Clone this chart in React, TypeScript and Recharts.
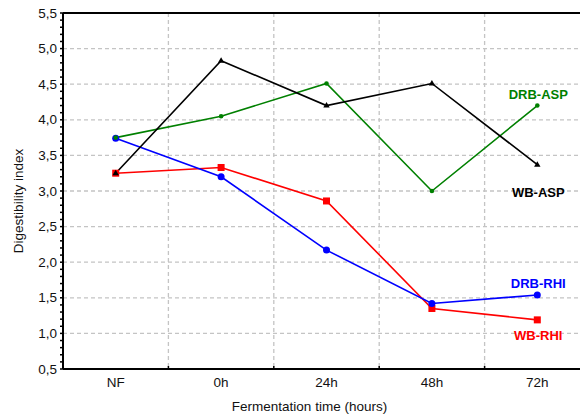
import { LineChart, Line, XAxis, YAxis, CartesianGrid, ReferenceLine } from "recharts";

const categories = ["NF", "0h", "24h", "48h", "72h"];
const wbAsp = [3.25, 4.83, 4.2, 4.51, 3.37];
const drbAsp = [3.75, 4.05, 4.51, 3.0, 4.2];
const drbRhi = [3.74, 3.2, 2.17, 1.42, 1.54];
const wbRhi = [3.25, 3.33, 2.86, 1.35, 1.19];

const yMajorTicks = [0.5, 1, 1.5, 2, 2.5, 3, 3.5, 4, 4.5, 5, 5.5];
const yMinorTicks: number[] = [];
for (let i = 5; i <= 55; i++) yMinorTicks.push(i / 10);
// category centres plus the band boundaries between them
const xTicks = [0, 0.5, 1, 1.5, 2, 2.5, 3, 3.5, 4, 4.5];
const xGridTicks = [0.5, 1.5, 2.5, 3.5, 4.5];

const data = categories.map((cat, i) => ({
  x: i,
  cat,
  wbAsp: wbAsp[i],
  drbAsp: drbAsp[i],
  drbRhi: drbRhi[i],
  wbRhi: wbRhi[i],
}));

const font = "'Liberation Sans', Arial, sans-serif";
const last = categories.length - 1;
const gridStroke = "#c4c4c4";

function YTick(props: any) {
  const { x, y, payload } = props;
  const v = payload.value;
  const major = Math.abs(v * 2 - Math.round(v * 2)) < 1e-6;
  return (
    <g>
      <line x1={x - 3} x2={x} y1={y} y2={y} stroke="#000" strokeWidth={1.5} />
      {major && (
        <text
          x={x - 6}
          y={y}
          textAnchor="end"
          dominantBaseline="central"
          fontFamily={font}
          fontSize={13.5}
          fill="#111"
        >
          {v.toFixed(1).replace(".", ",")}
        </text>
      )}
    </g>
  );
}

function XTick(props: any) {
  const { x, y, payload } = props;
  const v = payload.value;
  if (!Number.isInteger(v)) {
    return <line x1={x} x2={x} y1={y - 3} y2={y} stroke="#000" strokeWidth={1.5} />;
  }
  return (
    <text
      x={x}
      y={y + 13}
      textAnchor="middle"
      dominantBaseline="central"
      fontFamily={font}
      fontSize={13.5}
      fill="#111"
    >
      {categories[v]}
    </text>
  );
}

function endLabel(cx: number, cy: number, name: string, color: string, dy: number) {
  return (
    <text
      x={cx + 1}
      y={cy + dy}
      textAnchor="middle"
      fontFamily={font}
      fontWeight="bold"
      fontSize={13}
      fill={color}
    >
      {name}
    </text>
  );
}

const triangleDot = (props: any) => {
  const { cx, cy, index } = props;
  return (
    <g key={`wa${index}`}>
      <polygon points={`${cx},${cy - 3.5} ${cx - 3.2},${cy + 2} ${cx + 3.2},${cy + 2}`} fill="#000" />
      {index === last && endLabel(cx, cy, "WB-ASP", "#000", 32)}
    </g>
  );
};

const greenDot = (props: any) => {
  const { cx, cy, index } = props;
  return (
    <g key={`da${index}`}>
      <circle cx={cx} cy={cy} r={2.3} fill="#008000" />
      {index === last && endLabel(cx, cy, "DRB-ASP", "#008000", -7)}
    </g>
  );
};

const blueDot = (props: any) => {
  const { cx, cy, index } = props;
  return (
    <g key={`dr${index}`}>
      <circle cx={cx} cy={cy} r={3.5} fill="#0000ff" />
      {index === last && endLabel(cx, cy, "DRB-RHI", "#0000ff", -7)}
    </g>
  );
};

const redDot = (props: any) => {
  const { cx, cy, index } = props;
  return (
    <g key={`wr${index}`}>
      <rect x={cx - 3.5} y={cy - 3.5} width={7} height={7} fill="#ff0000" />
      {index === last && endLabel(cx, cy, "WB-RHI", "#ff0000", 20)}
    </g>
  );
};

export default function App() {
  return (
    <div
      style={{
        position: "absolute",
        left: 0,
        top: 0,
        width: 580,
        height: 415,
        overflow: "hidden",
        background: "#fff",
      }}
    >
      <LineChart
        width={600}
        height={415}
        data={data}
        margin={{ top: 13, right: 10, bottom: 0, left: 0 }}
      >
        <XAxis
          xAxisId="main"
          dataKey="x"
          type="number"
          domain={[-0.5, 4.5]}
          ticks={xTicks}
          interval={0}
          tick={<XTick />}
          tickLine={false}
          tickSize={0}
          tickMargin={0}
          height={46}
          axisLine={{ stroke: "#000", strokeWidth: 2 }}
          allowDataOverflow
          label={{
            value: "Fermentation time (hours)",
            position: "insideBottom",
            offset: 4,
            dx: -17,
            style: { fontFamily: font, fontSize: 13.5, fill: "#111" },
          }}
        />
        <YAxis
          yAxisId="main"
          type="number"
          domain={[0.5, 5.5]}
          ticks={yMinorTicks}
          interval={0}
          tick={<YTick />}
          tickLine={false}
          tickSize={0}
          tickMargin={0}
          width={63}
          axisLine={{ stroke: "#000", strokeWidth: 2 }}
          allowDataOverflow
          label={{
            content: (p: any) => {
              const vb = p.viewBox || {};
              const cx = (vb.x ?? 0) + 18;
              const cy = (vb.y ?? 13) + (vb.height ?? 356) / 2 + 10;
              return (
                <text
                  x={cx}
                  y={cy}
                  transform={`rotate(-90 ${cx} ${cy})`}
                  textAnchor="middle"
                  dominantBaseline="central"
                  fontFamily={font}
                  fontSize={13.5}
                  fill="#111"
                >
                  Digestibility index
                </text>
              );
            },
          }}
        />
        <XAxis
          xAxisId="grid"
          dataKey="x"
          type="number"
          domain={[-0.5, 4.5]}
          ticks={xGridTicks}
          height={0}
          hide
        />
        <CartesianGrid
          xAxisId="grid"
          yAxisId="main"
          horizontal={false}
          stroke={gridStroke}
          strokeWidth={1.3}
          strokeDasharray="4 3"
        />
        {yMajorTicks.slice(1, -1).map((v) => (
          <ReferenceLine
            key={v}
            xAxisId="main"
            yAxisId="main"
            y={v}
            stroke={gridStroke}
            strokeWidth={1.3}
            strokeDasharray="4 3"
          />
        ))}
        <ReferenceLine
          xAxisId="main"
          yAxisId="main"
          y={5.5}
          stroke="#000"
          strokeWidth={2}
        />
        <Line
          xAxisId="main"
          yAxisId="main"
          dataKey="wbRhi"
          stroke="#ff0000"
          strokeWidth={1.6}
          dot={redDot}
          activeDot={false}
          isAnimationActive={false}
        />
        <Line
          xAxisId="main"
          yAxisId="main"
          dataKey="drbRhi"
          stroke="#0000ff"
          strokeWidth={1.6}
          dot={blueDot}
          activeDot={false}
          isAnimationActive={false}
        />
        <Line
          xAxisId="main"
          yAxisId="main"
          dataKey="drbAsp"
          stroke="#008000"
          strokeWidth={1.6}
          dot={greenDot}
          activeDot={false}
          isAnimationActive={false}
        />
        <Line
          xAxisId="main"
          yAxisId="main"
          dataKey="wbAsp"
          stroke="#000"
          strokeWidth={1.6}
          dot={triangleDot}
          activeDot={false}
          isAnimationActive={false}
        />
      </LineChart>
    </div>
  );
}
